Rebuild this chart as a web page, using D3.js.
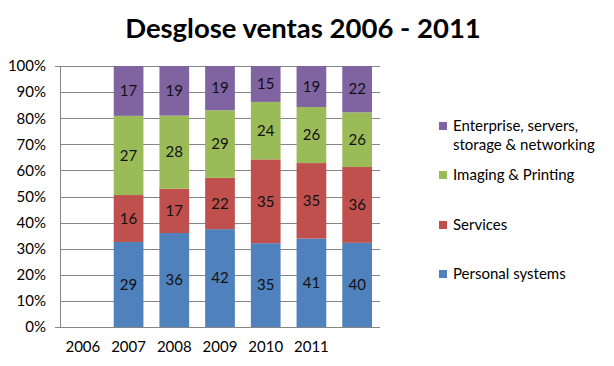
<!DOCTYPE html>
<meta charset="utf-8">
<style>
  body { margin: 0; background: #fff; font-family: Lato, "Open Sans", sans-serif; }
  .grid line { stroke: #868686; stroke-width: 1px; shape-rendering: crispEdges; }
  .axis path, .axis line { stroke: #868686; shape-rendering: crispEdges; }
  .axis text { font-family: Lato, sans-serif; font-size: 15px; fill: #000; }
</style>
<body></body>
<script src="https://d3js.org/d3.v7.min.js"></script>
<script>
  // categories on the x axis (last slot has no label)
  var years = ["2006", "2007", "2008", "2009", "2010", "2011", ""];
  var series = ["Personal systems", "Services", "Imaging & Printing", "Enterprise, servers, storage & networking"];
  var colors = ["#4F81BD", "#C0504D", "#9BBB59", "#8064A2"];

  // values per category slot (null = no bar)
  var personal   = [null, 29, 36, 42, 35, 41, 40];
  var services   = [null, 16, 17, 22, 35, 35, 36];
  var imaging    = [null, 27, 28, 29, 24, 26, 26];
  var enterprise = [null, 17, 19, 19, 15, 19, 22];
  var yTicks = [0, 0.1, 0.2, 0.3, 0.4, 0.5, 0.6, 0.7, 0.8, 0.9, 1];

  var W = 614, H = 366;
  var margin = { top: 66, left: 60, right: 234, bottom: 39 };
  var width = W - margin.left - margin.right,
    height = H - margin.top - margin.bottom;

  var svg = d3.select("body").append("svg")
    .attr("width", W).attr("height", H);

  svg.append("text")
    .attr("x", 303).attr("y", 38)
    .attr("text-anchor", "middle")
    .style("font-family", "Lato, sans-serif")
    .style("font-weight", "bold")
    .style("font-size", "27.5px")
    .text("Desglose ventas 2006 - 2011");

  var g = svg.append("g")
    .attr("transform", "translate(" + margin.left + "," + margin.top + ")");

  var x = d3.scaleBand().domain(d3.range(years.length)).range([0, width])
    .paddingInner(0.35).paddingOuter(0.175);
  var y = d3.scaleLinear().domain([0, 1]).range([height, 0]);

  // gridlines
  g.append("g").attr("class", "grid")
    .selectAll("line").data(yTicks).enter().append("line")
    .attr("x1", 0).attr("x2", width)
    .attr("y1", function(d) { return Math.round(y(d)) + 0.5; })
    .attr("y2", function(d) { return Math.round(y(d)) + 0.5; });

  // build stacked data
  var rows = years.map(function(yr, i) {
    return { i: i, vals: [personal[i], services[i], imaging[i], enterprise[i]] };
  }).filter(function(r) { return r.vals[0] != null; });

  var segs = [];
  rows.forEach(function(r) {
    var total = d3.sum(r.vals), acc = 0;
    r.vals.forEach(function(v, k) {
      segs.push({ i: r.i, k: k, v: v, y0: acc / total, y1: (acc + v) / total });
      acc += v;
    });
  });

  g.selectAll(".seg").data(segs).enter().append("rect")
    .attr("class", "seg")
    .attr("x", function(d) { return x(d.i); })
    .attr("width", x.bandwidth())
    .attr("y", function(d) { return y(d.y1); })
    .attr("height", function(d) { return y(d.y0) - y(d.y1); })
    .style("fill", function(d) { return colors[d.k]; });

  g.selectAll(".lbl").data(segs).enter().append("text")
    .attr("class", "lbl")
    .attr("x", function(d) { return x(d.i) + x.bandwidth() / 2; })
    .attr("y", function(d) { return y((d.y0 + d.y1) / 2); })
    .attr("dy", "0.35em")
    .attr("text-anchor", "middle")
    .style("font-size", "15px")
    .style("fill", "#111")
    .text(function(d) { return d.v; });

  var yAxis = d3.axisLeft(y).tickValues(yTicks).tickFormat(d3.format(".0%")).tickSize(5).tickPadding(9);
  g.append("g").attr("class", "axis").call(yAxis)
    .call(function(s) { s.selectAll(".tick line").remove(); });

  var xAxis = d3.axisBottom(x).tickFormat(function(i) { return years[i]; }).tickSize(0).tickPadding(14);
  g.append("g").attr("class", "axis")
    .attr("transform", "translate(0," + height + ")")
    .call(xAxis)
    .call(function(s) { s.select(".domain").remove(); });
  g.append("line")
    .attr("x1", 0).attr("x2", width)
    .attr("y1", Math.round(height) + 0.5).attr("y2", Math.round(height) + 0.5)
    .style("stroke", "#868686");

  // legend (top to bottom: reverse stack order)
  var legendRows = [
    { k: 3, lines: ["Enterprise, servers,", "storage & networking"], y: 126 },
    { k: 2, lines: ["Imaging & Printing"], y: 175 },
    { k: 1, lines: ["Services"], y: 225 },
    { k: 0, lines: ["Personal systems"], y: 274 }
  ];
  var leg = svg.append("g");
  legendRows.forEach(function(r) {
    leg.append("rect")
      .attr("x", 439).attr("y", r.y - 4).attr("width", 8).attr("height", 8)
      .style("fill", colors[r.k]);
    r.lines.forEach(function(t, j) {
      leg.append("text")
        .attr("x", 453).attr("y", r.y + j * 19)
        .attr("dy", "0.35em")
        .style("font-size", "15px")
        .text(t);
    });
  });
</script>
